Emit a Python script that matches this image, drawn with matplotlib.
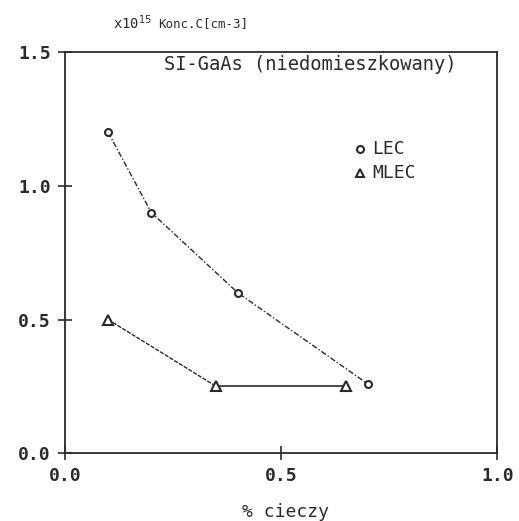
import matplotlib.pyplot as plt

# dane z wykresu
lec_x = [0.1, 0.2, 0.4, 0.7]
lec_y = [1.2, 0.9, 0.6, 0.26]
mlec_x = [0.1, 0.35, 0.65]
mlec_y = [0.5, 0.25, 0.25]
x_ticks = [0.0, 0.5, 1.0]
y_ticks = [0.0, 0.5, 1.0, 1.5]

plt.rcParams['font.family'] = 'DejaVu Sans Mono'
ink = '#2a2a2a'

fig = plt.figure(figsize=(5.19, 5.21), dpi=100)
ax = fig.add_axes([0.125, 0.130, 0.833, 0.770])

ax.plot(lec_x, lec_y, color=ink, linewidth=1.0, linestyle=(0, (4, 1.5, 1, 1.5)))
ax.plot(lec_x, lec_y, 'o', color=ink, markersize=5, markerfacecolor='white', markeredgewidth=1.5)
ax.plot(mlec_x[:2], mlec_y[:2], color=ink, linewidth=1.0, linestyle=(0, (3, 1)))
ax.plot(mlec_x[1:], mlec_y[1:], color=ink, linewidth=1.2)
ax.plot(mlec_x, mlec_y, '^', color=ink, markersize=7, markerfacecolor='white', markeredgewidth=1.5)

ax.set_xlim(0, 1.0)
ax.set_ylim(0, 1.5)
ax.set_xticks(x_ticks)
ax.set_yticks(y_ticks)
ax.set_xticklabels(['%.1f' % v for v in x_ticks])
ax.set_yticklabels(['%.1f' % v for v in y_ticks])
ax.tick_params(direction='inout', length=10, width=1.2, colors=ink, labelsize=13, pad=5)
for lab in ax.get_xticklabels() + ax.get_yticklabels():
    lab.set_fontweight('bold')
for s in ax.spines.values():
    s.set_color(ink)
    s.set_linewidth(1.3)

ax.text(0.111, 1.073, r'x10$^{15}$', transform=ax.transAxes, fontsize=10, color=ink, ha='left', va='center')
ax.text(0.215, 1.07, 'Konc.C[cm-3]', transform=ax.transAxes, fontsize=9, color=ink, ha='left', va='center')
ax.text(0.567, 0.968, 'SI-GaAs (niedomieszkowany)', transform=ax.transAxes, fontsize=13.5, color=ink, ha='center', va='center')

# legenda
ax.plot([0.683], [0.758], 'o', transform=ax.transAxes, color=ink, markersize=5, markerfacecolor='white', markeredgewidth=1.5)
ax.plot([0.683], [0.698], '^', transform=ax.transAxes, color=ink, markersize=6, markerfacecolor='white', markeredgewidth=1.5)
ax.text(0.710, 0.758, 'LEC', transform=ax.transAxes, fontsize=13, color=ink, ha='left', va='center')
ax.text(0.710, 0.698, 'MLEC', transform=ax.transAxes, fontsize=13, color=ink, ha='left', va='center')

ax.set_xlabel('% cieczy', fontsize=13, color=ink)
ax.xaxis.set_label_coords(0.51, -0.125)

plt.savefig('out.png', dpi=100, facecolor='white')
